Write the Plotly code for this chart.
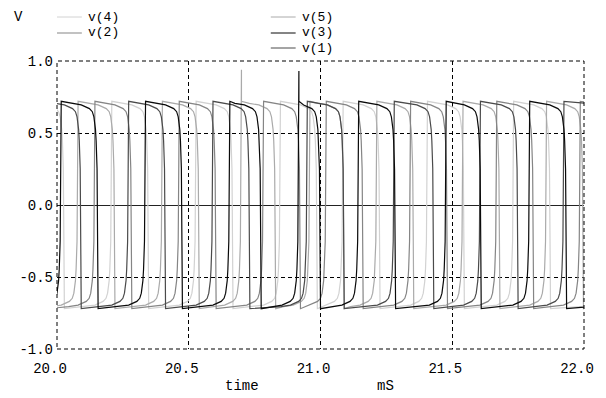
import plotly.graph_objects as go

# ---------------- data ----------------
x_ticks = [20.0, 20.5, 21.0, 21.5, 22.0]
x_tick_labels = ["20.0", "20.5", "21.0", "21.5", "22.0"]
y_ticks = [-1.0, -0.5, 0.0, 0.5, 1.0]
y_tick_labels = ["-1.0", "-0.5", "0.0", "0.5", "1.0"]

level_high = 0.72
level_low = -0.72

# transition end times (mS) for each node
v1_rise = [19.952, 20.272, 20.592, 20.950, 21.280, 21.607, 21.924]
v1_fall = [20.092, 20.412, 20.732, 21.090, 21.430, 21.750]
v2_rise = [19.824, 20.144, 20.464, 20.784, 21.022, 21.342, 21.669, 21.986]
v2_fall = [19.964, 20.284, 20.604, 20.924, 21.162, 21.482, 21.809]
v3_rise = [20.016, 20.336, 20.656, 20.918, 21.145, 21.477, 21.794]
v3_fall = [19.850, 20.156, 20.476, 20.775, 21.000, 21.285, 21.610, 21.934]
v4_rise = [19.888, 20.208, 20.528, 20.848, 21.086, 21.406, 21.733]
v4_fall = [20.028, 20.348, 20.668, 20.988, 21.226, 21.546, 21.873]
v5_rise = [20.080, 20.400, 20.700, 20.960, 21.214, 21.541, 21.858]
v5_fall = [19.930, 20.220, 20.540, 20.830, 21.090, 21.354, 21.681, 21.998]

# single-sample spikes (time, peak value)
v3_spike = (20.918, 0.93)
v5_spike = (20.700, 0.94)

# shape of the rounded knee before each switching edge (mS before edge, fraction of level)
knee_offsets = [-0.10, -0.064, -0.033, -0.022, -0.016, -0.010, -0.0075, -0.004]
knee_fracs = [0.98, 0.965, 0.93, 0.90, 0.85, 0.73, 0.62, 0.35]

names = ["v(4)", "v(5)", "v(2)", "v(1)", "v(3)"]
colors = {"v(4)": "#d2d2d2", "v(5)": "#aaaaaa", "v(2)": "#858585",
          "v(1)": "#4a4a4a", "v(3)": "#0a0a0a"}
edges = {"v(1)": (v1_rise, v1_fall, None), "v(2)": (v2_rise, v2_fall, None),
         "v(3)": (v3_rise, v3_fall, v3_spike), "v(4)": (v4_rise, v4_fall, None),
         "v(5)": (v5_rise, v5_fall, v5_spike)}


def build(rises, falls, spike):
    ev = sorted([(t, level_high) for t in rises] + [(t, level_low) for t in falls])
    prev_t = ev[0][0] - 0.3
    prev_l = -ev[0][1]
    xs, ys = [prev_t], [prev_l]
    for t, lv in ev:
        for off, fr in zip(knee_offsets, knee_fracs):
            tt = t + off
            if tt > prev_t + 0.003:
                xs.append(tt)
                ys.append(prev_l * fr)
        if spike is not None and abs(spike[0] - t) < 1e-9:
            xs.append(t)
            ys.append(spike[1])
        xs.append(t)
        ys.append(lv)
        prev_t, prev_l = t, lv
    xs.append(22.1)
    ys.append(prev_l * 0.96)
    return xs, ys


fig = go.Figure()
for n in names:
    r, f, s = edges[n]
    xs, ys = build(r, f, s)
    fig.add_trace(go.Scatter(x=xs, y=ys, mode="lines", name=n,
                             line=dict(color=colors[n], width=1.2),
                             showlegend=False, hoverinfo="skip"))

FONT = "Liberation Mono, DejaVu Sans Mono, monospace"
FS = 14
LFS = 13
dash = "4px,3px"

fig.update_layout(
    width=606, height=398,
    margin=dict(l=57, r=19, t=61, b=49),
    paper_bgcolor="white", plot_bgcolor="white",
    font=dict(family=FONT, size=FS, color="black"),
    xaxis=dict(range=[20, 22], tickvals=x_ticks, ticktext=x_tick_labels,
               showgrid=True, gridcolor="black", gridwidth=1, griddash=dash,
               zeroline=False, showline=False, ticks="",
               ticklabelshift=-7, ticklabelstandoff=9),
    yaxis=dict(range=[-1, 1], tickvals=y_ticks, ticktext=y_tick_labels,
               showgrid=True, gridcolor="black", gridwidth=1, griddash=dash,
               zeroline=True, zerolinecolor="#222222", zerolinewidth=1,
               showline=False, ticks="", ticklabelstandoff=3),
)

# dashed frame
fig.add_shape(type="rect", xref="paper", yref="paper", x0=0, x1=1, y0=0, y1=1,
              line=dict(color="black", width=1, dash=dash), layer="above")


def px_x(px):
    return (px - 57) / 530.0


def px_y(py):
    return (349 - py) / 288.0


# legend (two columns)
legend_items = [("v(4)", 57, 17), ("v(2)", 57, 33),
                ("v(5)", 272, 17), ("v(3)", 272, 33), ("v(1)", 272, 48)]
for n, lx, ly in legend_items:
    fig.add_shape(type="line", xref="paper", yref="paper",
                  x0=px_x(lx), x1=px_x(lx + 25), y0=px_y(ly), y1=px_y(ly),
                  line=dict(color=colors[n], width=1))
    fig.add_annotation(xref="paper", yref="paper", x=px_x(lx + 30), y=px_y(ly),
                       text=n, showarrow=False, xanchor="left", yanchor="middle",
                       borderpad=0,
                       font=dict(family=FONT, size=LFS, color="black"))

fig.add_annotation(xref="paper", yref="paper", x=px_x(18), y=px_y(17), text="V",
                   showarrow=False, xanchor="center", yanchor="middle",
                   font=dict(family=FONT, size=FS, color="black"))
fig.add_annotation(xref="paper", yref="paper", x=px_x(243), y=px_y(386), text="time",
                   showarrow=False, xanchor="center", yanchor="middle",
                   font=dict(family=FONT, size=FS, color="black"))
fig.add_annotation(xref="paper", yref="paper", x=px_x(387), y=px_y(386), text="mS",
                   showarrow=False, xanchor="center", yanchor="middle",
                   font=dict(family=FONT, size=FS, color="black"))

fig.write_html("out.html", config={"displayModeBar": False},
               post_script="document.body.style.margin='0';document.body.style.padding='0';")
